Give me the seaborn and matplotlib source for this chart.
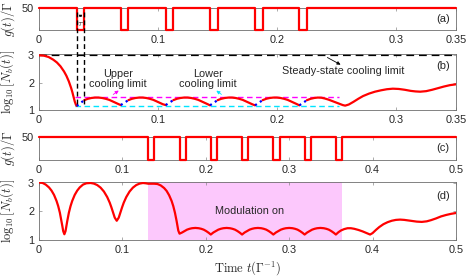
import numpy as np
import pandas as pd
import seaborn as sns
import matplotlib.pyplot as plt
from matplotlib.lines import Line2D
from matplotlib.transforms import blended_transform_factory

# --- data ------------------------------------------------------------------
# (a) coupling switched off for tau at these times
a_dip_start = [0.0316, 0.0686, 0.1063, 0.1435, 0.1813, 0.2185]
a_tau = 0.0064
# (c) modulation windows
c_dip_start = [0.131, 0.1685, 0.206, 0.2435, 0.281, 0.3185, 0.356]
c_tau = 0.0074
g_on = 50

# (b) log10 N_b(t)
b_time = [0, 0.004, 0.008, 0.012, 0.015, 0.018, 0.021, 0.023, 0.025, 0.027, 0.028, 0.029, 0.030, 0.031, 0.0316,
          0.038, 0.041, 0.044, 0.047, 0.050, 0.053, 0.056, 0.059, 0.062, 0.065, 0.067, 0.0686,
          0.075, 0.078, 0.081, 0.084, 0.087, 0.090, 0.093, 0.096, 0.099, 0.102, 0.104, 0.1063,
          0.1127, 0.1157, 0.1187, 0.1217, 0.1247, 0.1277, 0.1307, 0.1337, 0.1367, 0.1397, 0.1417, 0.1435,
          0.1499, 0.153, 0.156, 0.159, 0.162, 0.165, 0.168, 0.171, 0.174, 0.177, 0.179, 0.1813,
          0.1877, 0.1907, 0.1937, 0.1967, 0.1997, 0.2027, 0.2057, 0.2087, 0.2117, 0.2147, 0.2167, 0.2185,
          0.2249, 0.228, 0.231, 0.234, 0.237, 0.240, 0.243, 0.246, 0.249, 0.252, 0.255, 0.257, 0.260, 0.264,
          0.268, 0.272, 0.277, 0.282, 0.287, 0.292, 0.297, 0.302, 0.307, 0.312, 0.316, 0.320, 0.325, 0.330,
          0.335, 0.340, 0.345, 0.350]
b_logn = [3.0, 2.99, 2.94, 2.84, 2.74, 2.60, 2.41, 2.25, 2.05, 1.80, 1.65, 1.48, 1.31, 1.19, 1.15,
          1.36, 1.41, 1.44, 1.455, 1.455, 1.44, 1.41, 1.37, 1.31, 1.25, 1.21, 1.18,
          1.36, 1.41, 1.44, 1.455, 1.455, 1.44, 1.41, 1.37, 1.31, 1.25, 1.21, 1.18,
          1.36, 1.41, 1.44, 1.455, 1.455, 1.44, 1.41, 1.37, 1.31, 1.25, 1.21, 1.17,
          1.36, 1.41, 1.44, 1.455, 1.455, 1.44, 1.41, 1.37, 1.31, 1.25, 1.21, 1.17,
          1.36, 1.41, 1.44, 1.455, 1.455, 1.44, 1.41, 1.37, 1.31, 1.25, 1.21, 1.17,
          1.36, 1.41, 1.44, 1.455, 1.45, 1.42, 1.38, 1.33, 1.28, 1.23, 1.18, 1.16, 1.20, 1.30,
          1.41, 1.51, 1.60, 1.67, 1.72, 1.76, 1.78, 1.77, 1.74, 1.70, 1.68, 1.67, 1.69, 1.74,
          1.80, 1.86, 1.91, 1.94]

# (d) log10 N_b(t)
d_time = [0, 0.004, 0.008, 0.012, 0.015, 0.018, 0.021, 0.023, 0.025, 0.027, 0.028, 0.029, 0.0304,
          0.0318, 0.0328, 0.0338, 0.0358, 0.0378, 0.0398, 0.0428, 0.0458, 0.0488, 0.0528, 0.0568, 0.0618,
          0.0658, 0.0698, 0.0738, 0.0778, 0.0818, 0.0848, 0.0868, 0.0888, 0.0908, 0.0932,
          0.0956, 0.0976, 0.0996, 0.1016, 0.1046, 0.1086, 0.1126, 0.1166, 0.1206, 0.1246, 0.128, 0.131,
          0.138, 0.142, 0.146, 0.150, 0.153, 0.156, 0.159, 0.161, 0.163, 0.165, 0.166, 0.167, 0.1685,
          0.1715, 0.1745, 0.1775, 0.1805, 0.1835, 0.1875, 0.1915, 0.1945, 0.1975, 0.2005, 0.2035, 0.206,
          0.209, 0.212, 0.215, 0.218, 0.221, 0.225, 0.229, 0.232, 0.235, 0.238, 0.241, 0.2435,
          0.2465, 0.2495, 0.2525, 0.2555, 0.2585, 0.2625, 0.2665, 0.2695, 0.2725, 0.2755, 0.2785, 0.281,
          0.284, 0.287, 0.290, 0.293, 0.296, 0.300, 0.304, 0.307, 0.310, 0.313, 0.316, 0.3185,
          0.3215, 0.3245, 0.3275, 0.3305, 0.3335, 0.3375, 0.3415, 0.3445, 0.3475, 0.3505, 0.3535, 0.356,
          0.359, 0.362, 0.366, 0.370, 0.374, 0.378, 0.383, 0.388, 0.392, 0.395, 0.397, 0.400, 0.404,
          0.408, 0.413, 0.418, 0.423, 0.428, 0.433, 0.438, 0.443, 0.448, 0.453, 0.459, 0.465, 0.470,
          0.476, 0.482, 0.488, 0.494, 0.5]
d_logn = [3.0, 2.99, 2.93, 2.83, 2.72, 2.57, 2.36, 2.18, 1.95, 1.65, 1.48, 1.31, 1.20,
          1.31, 1.48, 1.65, 1.95, 2.18, 2.36, 2.57, 2.72, 2.83, 2.93, 2.975, 2.985,
          2.964, 2.913, 2.824, 2.689, 2.494, 2.299, 2.137, 1.956, 1.778, 1.67,
          1.778, 1.956, 2.137, 2.299, 2.494, 2.689, 2.824, 2.913, 2.964, 2.985, 2.975, 2.96,
          2.96, 2.95, 2.90, 2.81, 2.71, 2.56, 2.36, 2.18, 1.95, 1.66, 1.49, 1.33, 1.22,
          1.26, 1.31, 1.36, 1.39, 1.41, 1.42, 1.41, 1.39, 1.36, 1.31, 1.25, 1.19,
          1.26, 1.31, 1.36, 1.39, 1.41, 1.42, 1.41, 1.39, 1.36, 1.31, 1.25, 1.19,
          1.26, 1.31, 1.36, 1.39, 1.41, 1.42, 1.41, 1.39, 1.36, 1.31, 1.25, 1.19,
          1.26, 1.31, 1.36, 1.39, 1.41, 1.42, 1.41, 1.39, 1.36, 1.31, 1.25, 1.19,
          1.26, 1.31, 1.36, 1.39, 1.41, 1.42, 1.41, 1.39, 1.36, 1.31, 1.25, 1.19,
          1.27, 1.33, 1.38, 1.41, 1.41, 1.39, 1.35, 1.30, 1.25, 1.21, 1.19, 1.24, 1.35,
          1.45, 1.55, 1.62, 1.67, 1.70, 1.71, 1.70, 1.68, 1.66, 1.64, 1.63, 1.65, 1.69,
          1.75, 1.82, 1.87, 1.91, 1.94]

steady_limit = 3.0
upper_limit = 1.49
lower_limit = 1.13
limit_span = (0.0302, 0.2518)
mod_on = (0.131, 0.3637)

ab_ticks = [0, 0.1, 0.2, 0.3, 0.35]
ab_labels = ["0", "0.1", "0.2", "0.3", "0.35"]
cd_ticks = [0, 0.1, 0.2, 0.3, 0.4, 0.5]
cd_labels = ["0", "0.1", "0.2", "0.3", "0.4", "0.5"]

# --- style -----------------------------------------------------------------
sns.set_style("ticks")
plt.rcParams["font.family"] = ["Liberation Sans", "DejaVu Sans"]
plt.rcParams["mathtext.fontset"] = "cm"

fig = plt.figure(figsize=(4.69, 2.77), dpi=100)
L, W = 0.0832, 0.889
ax_a = fig.add_axes([L, 0.8917, W, 0.0794])
ax_b = fig.add_axes([L, 0.6029, W, 0.2022])
ax_c = fig.add_axes([L, 0.4224, W, 0.0830])
ax_d = fig.add_axes([L, 0.1336, W, 0.2094])


def style(ax, ticks, labels, xmax):
    for sp in ax.spines.values():
        sp.set_color("#6e6e6e")
        sp.set_linewidth(0.6)
    ax.tick_params(direction="in", length=2.5, width=0.5, colors="#8a8a8a",
                   labelcolor="#262626", labelsize=7.8, top=True, right=True, pad=3.5)
    ax.set_xlim(0, xmax)
    ax.set_xticks(ticks)
    ax.set_xticklabels(labels)
    ax.set_xlabel("")


def square(dips, tau, tmax):
    t, g = [0], [g_on]
    for s in dips:
        t += [s, s, s + tau, s + tau]
        g += [g_on, 0, 0, g_on]
    t.append(tmax)
    g.append(g_on)
    return t, g


# (a) and (c) g(t)
for ax, dips, tau, tmax in [(ax_a, a_dip_start, a_tau, 0.35), (ax_c, c_dip_start, c_tau, 0.5)]:
    t, g = square(dips, tau, tmax)
    sns.lineplot(x=t, y=g, sort=False, estimator=None, color="red", lw=1.6,
                 ax=ax, clip_on=False, zorder=3)
    ax.set_ylim(0, 50)
    ax.set_yticks([50])
    ax.set_ylabel(r"$g(t)/\Gamma$", fontsize=9)
    ax.yaxis.set_label_coords(-0.052, 0.5)

style(ax_a, ab_ticks, ab_labels, 0.35)
style(ax_c, cd_ticks, cd_labels, 0.5)

# (b) split into cooling (red) and free (blue dotted) pieces
b_df = pd.DataFrame({"t": b_time, "n": b_logn})
red_parts, blue_parts = [], []
edges = [0] + [x for s in a_dip_start for x in (s, s + a_tau)] + [0.35]
for k in range(0, len(edges), 2):
    part = b_df[(b_df.t >= edges[k] - 1e-6) & (b_df.t <= edges[k + 1] + 1e-6)].copy()
    part["seg"] = k
    red_parts.append(part)
for k in range(1, len(edges) - 1, 2):
    part = b_df[(b_df.t >= edges[k] - 1e-6) & (b_df.t <= edges[k + 1] + 1e-6)].copy()
    part["seg"] = k
    blue_parts.append(part)

ax_b.axhline(steady_limit, color="black", lw=1.6, dashes=(3.5, 2.2), zorder=2)
ax_b.plot(limit_span, [upper_limit] * 2, color="#ff00ff", lw=1.0, dashes=(4, 2.5))
ax_b.plot(limit_span, [lower_limit] * 2, color="#00e5ff", lw=1.0, dashes=(4, 2.5))
sns.lineplot(data=pd.concat(red_parts), x="t", y="n", units="seg", estimator=None, sort=False,
             color="red", lw=1.6, ax=ax_b, zorder=3)
sns.lineplot(data=pd.concat(blue_parts), x="t", y="n", units="seg", estimator=None, sort=False,
             color="blue", lw=1.6, ls=":", ax=ax_b, zorder=3)
ax_b.set_ylim(1, 3.05)
ax_b.set_yticks([1, 2, 3])
ax_b.set_ylabel(r"$\log_{10}[N_b(t)]$", fontsize=9)
ax_b.yaxis.set_label_coords(-0.052, 0.5)
style(ax_b, ab_ticks, ab_labels, 0.35)

ax_b.text(0.0663, 2.13, "Upper\ncooling limit", ha="center", va="center", fontsize=7.8, linespacing=1.0)
ax_b.text(0.1415, 2.13, "Lower\ncooling limit", ha="center", va="center", fontsize=7.8, linespacing=1.0)
ax_b.text(0.2552, 2.43, "Steady-state cooling limit", ha="center", va="center", fontsize=7.8)
ax_b.annotate("", xy=(0.0688, 1.77), xytext=(0.0604, 1.51),
              arrowprops=dict(arrowstyle="-|>", color="#ff00ff", lw=0.6, mutation_scale=5))
ax_b.annotate("", xy=(0.147, 1.77), xytext=(0.155, 1.51),
              arrowprops=dict(arrowstyle="-|>", color="#00e5ff", lw=0.6, mutation_scale=5))
ax_b.annotate("", xy=(0.2552, 2.61), xytext=(0.24, 2.97),
              arrowprops=dict(arrowstyle="-|>", color="black", lw=0.6, mutation_scale=5))

# tau markers spanning (a) and (b)
tr = blended_transform_factory(ax_b.transData, fig.transFigure)
for x in (a_dip_start[0], a_dip_start[0] + a_tau):
    fig.add_artist(Line2D([x, x], [0.957, 0.625], transform=tr, color="black",
                          lw=1.0, dashes=(3.5, 2.2), zorder=5))
ax_a.annotate("", xy=(a_dip_start[0] - 0.0005, 0.65), xytext=(a_dip_start[0] + a_tau + 0.0005, 0.65),
              xycoords=("data", "axes fraction"), textcoords=("data", "axes fraction"),
              arrowprops=dict(arrowstyle="<|-|>", color="black", lw=0.5, mutation_scale=3))
ax_a.text(a_dip_start[0] + a_tau / 2, 0.33, r"$\tau$", transform=ax_a.get_xaxis_transform(),
          ha="center", va="center", fontsize=7)

# (d)
ax_d.axvspan(*mod_on, color="#fcc8fc", lw=0, zorder=0)
sns.lineplot(x=d_time, y=d_logn, sort=False, estimator=None, color="red", lw=1.6, ax=ax_d, zorder=3)
ax_d.set_ylim(1, 3.02)
ax_d.set_yticks([1, 2, 3])
ax_d.set_ylabel(r"$\log_{10}[N_b(t)]$", fontsize=9)
ax_d.yaxis.set_label_coords(-0.052, 0.5)
style(ax_d, cd_ticks, cd_labels, 0.5)
ax_d.text(0.253, 2.0, "Modulation on", ha="center", va="center", fontsize=7.8)
ax_d.set_xlabel(r"$\mathrm{Time}\ t(\Gamma^{-1})$", fontsize=9, labelpad=3)

for ax, lab, y in [(ax_a, "(a)", 0.5), (ax_b, "(b)", 0.79), (ax_c, "(c)", 0.54), (ax_d, "(d)", 0.76)]:
    ax.text(0.985, y, lab, transform=ax.transAxes, ha="right", va="center", fontsize=8)

fig.savefig("out.png", dpi=100)
